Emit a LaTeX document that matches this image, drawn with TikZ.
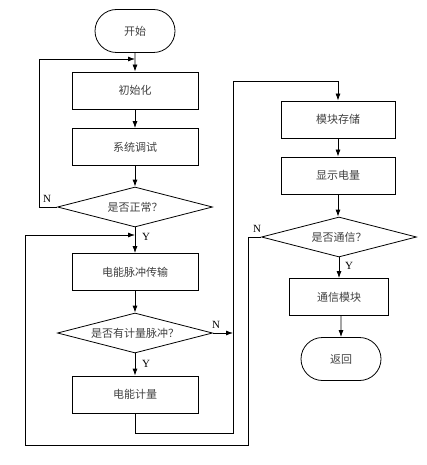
\documentclass[tikz,border=0pt]{standalone}
\usepackage{fontspec}
\setmainfont{Liberation Serif}
\newfontfamily\cjk{Noto Sans CJK SC}
\usetikzlibrary{arrows.meta,shapes.geometric,shapes.misc}
\begin{document}
\begin{tikzpicture}[x=1pt,y=-1pt,
  txt/.style={text=black!75, font=\cjk\fontsize{11}{13}\selectfont},
  box/.style={draw, line width=0.8pt, rectangle, minimum width=126pt, minimum height=37pt, inner sep=0pt, txt},
  term/.style={draw, line width=0.8pt, rounded rectangle, minimum width=80pt, minimum height=43pt, inner sep=0pt, txt},
  dec/.style={draw, line width=0.8pt, diamond, aspect=3.9, minimum width=155pt, minimum height=40pt, inner sep=0pt, txt},
  lab/.style={font=\fontsize{11}{13}\selectfont, inner sep=0pt},
  arr/.style={draw, line width=0.8pt, -{Latex[length=7pt,width=5pt]}},
  ln/.style={draw, line width=0.8pt}]
\useasboundingbox (0,0) rectangle (427,465);
% left column
\node[term] (start) at (135,31) {开始};
\node[box] (init) at (135,90.5) {初始化};
\node[box] (test) at (135,147) {系统调试};
\node[dec] (d1) at (135,207) {是否正常？};
\node[box] (pulse) at (135,272) {电能脉冲传输};
\node[dec] (d2) at (135,333) {是否有计量脉冲？};
\node[box] (meter) at (135,394.5) {电能计量};
% right column
\node[box, minimum width=114pt] (store) at (338,119.5) {模块存储};
\node[box, minimum width=114pt] (disp) at (338,175.5) {显示电量};
\node[dec] (d3) at (339,237) {是否通信？};
\node[box, minimum width=99pt] (comm) at (339,297) {通信模块};
\node[term] (ret) at (341,359) {返回};
% junction coordinates
\coordinate (j1) at (135,59);
\coordinate (j2) at (135,235);
\coordinate (j3) at (233,333);
% connectors
\draw[arr] (start) -- (init);
\draw[arr] (init) -- (test);
\draw[arr] (test) -- (d1);
\draw[arr] (d1) -- (pulse);
\draw[arr] (pulse) -- (d2);
\draw[arr] (d2) -- (meter);
\draw[arr] (store) -- (disp);
\draw[arr] (disp.south) -- (disp.south |- d3.north);
\draw[arr] (d3.south) -- (d3.south |- comm.north);
\draw[arr] (comm.south -| ret) -- (ret);
% N loop of d1
\draw[arr] (d1.west) -- (39,207) -- (39,59) -- (j1);
% N of d2
\draw[arr] (d2.east) -- (j3);
% meter to store
\draw[arr] (meter.south) -- (135,433) -- (233,433) -- (233,81) -- (338,81) -- (store.north);
% N loop of d3
\draw[arr] (d3.west) -- (248,237) -- (248,445) -- (25,445) -- (25,235) -- (j2);
% labels
\node[lab] (n1) at (47,199) {N};
\node[lab] (y1) at (146,237) {Y};
\node[lab] (n2) at (216,325) {N};
\node[lab] (y2) at (146,364) {Y};
\node[lab] (n3) at (257,229) {N};
\node[lab] (y3) at (349,266) {Y};
\end{tikzpicture}
\end{document}
